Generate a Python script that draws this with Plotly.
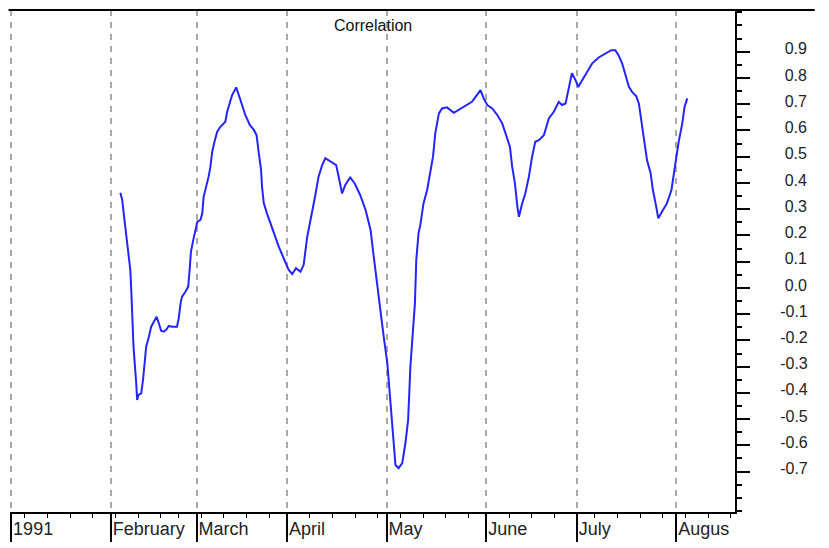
import plotly.graph_objects as go
import pandas as pd

# Trading-day index (0 = 2 Jan 1991) of each reading and the correlation value read there
day = [24.1, 24.5, 25.0, 25.6, 25.9, 26.3, 26.5, 26.7, 27.0, 27.6, 27.8, 28.1, 28.7, 29.1,
       29.4, 29.8, 30.4, 30.9, 31.5, 32.1, 32.6, 33.1, 33.7, 34.3, 34.8, 35.5, 36.6, 37.0,
       37.4, 37.7, 38.5, 39.1, 39.4, 39.7, 40.2, 40.7, 41.1, 41.8, 42.2, 42.5, 43.1, 43.6,
       44.0, 44.4, 44.9, 45.5, 46.2, 47.3, 47.7, 48.3, 48.8, 49.7, 50.2, 51.0, 51.7, 52.7,
       53.6, 54.2, 54.7, 55.2, 55.4, 55.8, 56.5, 57.3, 58.0, 59.1, 60.2, 61.3, 62.1, 62.9,
       63.9, 64.6, 65.4, 66.3, 67.2, 67.9, 68.7, 69.4, 70.5, 71.8, 72.5, 73.1, 73.8, 74.9,
       75.9, 77.1, 78.3, 79.4, 80.1, 80.8, 81.6, 82.3, 83.1, 83.6, 84.0, 84.5, 84.9, 85.6,
       86.4, 87.1, 87.7, 88.2, 88.7, 89.2, 89.5, 90.0, 90.4, 91.1, 91.9, 92.6, 93.2, 93.7,
       94.5, 95.2, 96.3, 97.8, 99.3, 100.7, 101.8, 102.6, 103.7, 104.4, 105.2, 106.3, 107.4,
       108.5, 109.4, 110.2, 110.7, 111.3, 111.9, 112.2, 112.9, 113.6, 114.4, 115.1, 115.8,
       116.6, 117.7, 118.8, 119.9, 121.0, 121.7, 122.5, 122.8, 123.2, 123.9, 124.7, 125.3,
       126.2, 127.3, 128.4, 129.8, 131.3, 132.6, 133.5, 134.2, 135.0, 135.7, 136.5, 137.2,
       138.1, 138.7, 139.0, 139.5, 140.0, 140.5, 141.3, 141.8, 142.4, 143.0, 143.8, 144.9,
       145.9, 146.4, 146.9, 147.5, 148.3, 148.8, 149.4]
corr = [0.363, 0.335, 0.259, 0.170, 0.144, 0.068, -0.008, -0.097, -0.224, -0.363, -0.427,
        -0.408, -0.402, -0.351, -0.286, -0.224, -0.186, -0.148, -0.129, -0.110, -0.135,
        -0.163, -0.167, -0.158, -0.145, -0.148, -0.148, -0.116, -0.059, -0.034, -0.014,
        0.005, 0.068, 0.138, 0.182, 0.220, 0.252, 0.259, 0.284, 0.347, 0.386, 0.424, 0.462,
        0.519, 0.557, 0.595, 0.614, 0.633, 0.671, 0.703, 0.735, 0.764, 0.741, 0.697, 0.659,
        0.621, 0.602, 0.582, 0.513, 0.449, 0.386, 0.322, 0.284, 0.246, 0.208, 0.157, 0.113,
        0.068, 0.053, 0.075, 0.062, 0.087, 0.195, 0.271, 0.354, 0.424, 0.468, 0.494, 0.481,
        0.468, 0.411, 0.360, 0.392, 0.421, 0.398, 0.354, 0.297, 0.221, 0.119, 0.018, -0.084,
        -0.186, -0.287, -0.389, -0.478, -0.567, -0.675, -0.687, -0.668, -0.592, -0.503,
        -0.300, -0.186, -0.059, 0.106, 0.208, 0.240, 0.322, 0.373, 0.437, 0.500, 0.589,
        0.665, 0.684, 0.688, 0.667, 0.684, 0.697, 0.709, 0.728, 0.754, 0.722, 0.697, 0.684,
        0.659, 0.627, 0.576, 0.538, 0.462, 0.398, 0.303, 0.271, 0.322, 0.360, 0.424, 0.500,
        0.557, 0.563, 0.582, 0.646, 0.671, 0.709, 0.697, 0.703, 0.728, 0.766, 0.818, 0.792,
        0.766, 0.792, 0.824, 0.856, 0.878, 0.894, 0.906, 0.906, 0.887, 0.856, 0.818, 0.766,
        0.747, 0.731, 0.703, 0.665, 0.614, 0.551, 0.487, 0.437, 0.373, 0.322, 0.265, 0.290,
        0.322, 0.373, 0.437, 0.500, 0.557, 0.627, 0.690, 0.722]

month_labels = ["1991", "February", "March", "April", "May", "June", "July", "Augus"]
y_tick_values = [-0.7, -0.6, -0.5, -0.4, -0.3, -0.2, -0.1, 0.0,
                 0.1, 0.2, 0.3, 0.4, 0.5, 0.6, 0.7, 0.8, 0.9]
holidays = ["1991-01-01", "1991-02-18", "1991-03-29", "1991-05-27", "1991-07-04"]

# trading calendar -> month starts and week starts as trading-day indices
cal = pd.bdate_range("1991-01-02", "1991-08-30", freq="C", holidays=holidays)
month_start = [i for i in range(len(cal)) if i == 0 or cal[i].month != cal[i - 1].month]
week_start = [i for i in range(1, len(cal))
              if cal[i].isocalendar().week != cal[i - 1].isocalendar().week]

y_tick_text = [("\u00a0" if v >= 0 else "") + f"{v:.1f}" for v in y_tick_values]

FONT = "Liberation Sans, Arial, sans-serif"

fig = go.Figure()
fig.add_trace(go.Scatter(x=day, y=corr, mode="lines",
                         line=dict(color="#2424ff", width=2), hoverinfo="skip"))

# the page body adds an 8px offset, so the figure is 8px smaller than the window
fig.update_layout(
    width=821, height=540,
    margin=dict(l=2, r=94, t=2, b=36),
    plot_bgcolor="white", paper_bgcolor="white",
    showlegend=False,
    font=dict(family=FONT, color="#222222"),
    xaxis=dict(
        automargin=False,
        range=[-0.3, 159.95],
        tickmode="array", tickvals=month_start[:len(month_labels)], ticktext=month_labels,
        ticks="outside", ticklen=28, tickwidth=1.5, tickcolor="black",
        ticklabelposition="outside right", ticklabelstandoff=-1,
        tickfont=dict(size=18, color="#222222"),
        showline=True, linecolor="black", linewidth=2,
        showgrid=True, gridcolor="#a9a9a9", gridwidth=1.5, griddash="6px,6px",
        zeroline=False,
        minor=dict(tickmode="array", tickvals=week_start, ticks="outside",
                   ticklen=4, tickwidth=1, tickcolor="black", showgrid=False),
    ),
    yaxis=dict(
        automargin=False,
        side="right",
        range=[-0.854, 1.059],
        tickmode="array", tickvals=y_tick_values, ticktext=y_tick_text,
        ticks="outside", ticklen=13, tickwidth=2, tickcolor="black",
        tickfont=dict(size=16, color="#222222"),
        ticklabelstandoff=27, ticklabelshift=-3,
        showline=True, linecolor="black", linewidth=2,
        showgrid=False, zeroline=False,
        minor=dict(tickmode="linear", tick0=0, dtick=0.05, ticks="outside",
                   ticklen=5, tickwidth=2, tickcolor="black", showgrid=False),
    ),
    annotations=[dict(text="Correlation", xref="paper", yref="paper", x=0.5,
                      y=1 - 16 / 502, xanchor="center", yanchor="middle",
                      showarrow=False, font=dict(size=16, color="#111111"))],
    shapes=[dict(type="line", xref="paper", yref="paper", x0=-0.002, x1=1.11,
                 y0=1, y1=1, line=dict(color="black", width=2))],
)

fig.write_html("out.html")
